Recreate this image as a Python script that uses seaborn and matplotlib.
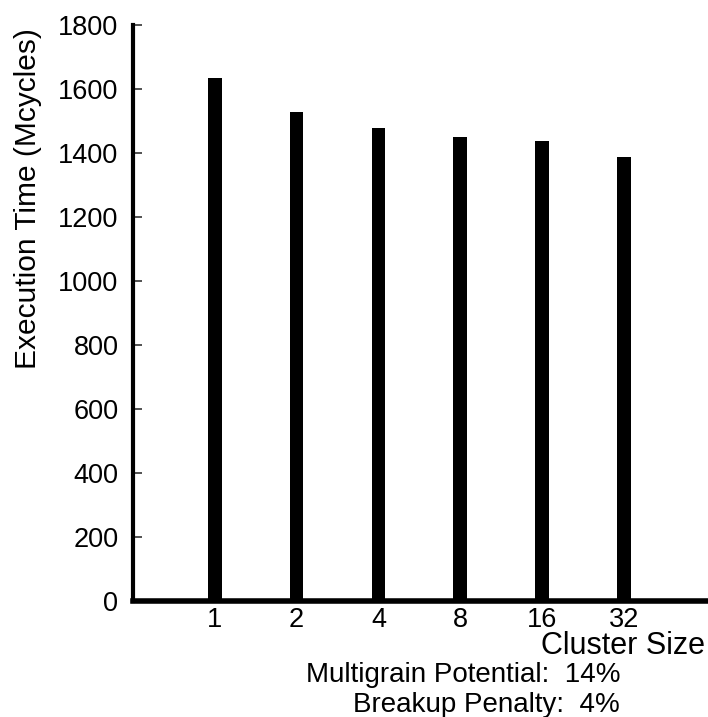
import matplotlib
matplotlib.use("Agg")
import matplotlib.pyplot as plt
import seaborn as sns
import pandas as pd

cluster_sizes = ["1", "2", "4", "8", "16", "32"]
exec_time = [1633, 1529, 1477, 1449, 1437, 1387]
y_ticks = [0, 200, 400, 600, 800, 1000, 1200, 1400, 1600, 1800]
notes = ["Multigrain Potential:  14%", "Breakup Penalty:  4%"]

df = pd.DataFrame({"Cluster Size": cluster_sizes, "Execution Time": exec_time})

sns.set_style("ticks")
plt.rcParams['font.family'] = ['Liberation Sans', 'DejaVu Sans']
plt.rcParams['text.color'] = 'black'
plt.rcParams['axes.labelcolor'] = 'black'

W, H = 708, 717
fig = plt.figure(figsize=(W / 100, H / 100), dpi=100)
ax = fig.add_axes([133 / W, 1 - 601 / H, 575 / W, 576 / H])

sns.barplot(data=df, x="Cluster Size", y="Execution Time", order=cluster_sizes,
            color="black", width=0.165, linewidth=0, saturation=1, ax=ax)

ax.set_xlim(-1, 6.03)
ax.set_ylim(0, 1800)
ax.set_yticks(y_ticks)

sns.despine(ax=ax)
ax.spines['left'].set_linewidth(3)
ax.spines['bottom'].set_linewidth(4)
ax.spines['left'].set_color('black')
ax.spines['bottom'].set_color('black')

ax.tick_params(axis='y', direction='in', length=6.5, width=1.2, color='#333333',
               labelsize=19.5, pad=10.5, labelcolor='black')
ax.tick_params(axis='x', length=0, labelsize=19.5, pad=4, labelcolor='black')

ax.set_ylabel("Execution Time (Mcycles)", fontsize=21.5, rotation=90,
              ha='center', va='center', color='black')
ax.yaxis.set_label_coords((28 - 133) / 575, (601 - 199) / 576)

ax.set_xlabel("Cluster Size", fontsize=22, ha='right', va='baseline', color='black')
ax.xaxis.set_label_coords((705 - 133) / 575, -(654.5 - 601) / 576)

fig.text(620 / W, 1 - 682 / H, notes[0], fontsize=20, ha='right', va='baseline',
         color='black')
fig.text(620 / W, 1 - 711.5 / H, notes[1], fontsize=20, ha='right', va='baseline',
         color='black')

fig.savefig("out.png", dpi=100)
